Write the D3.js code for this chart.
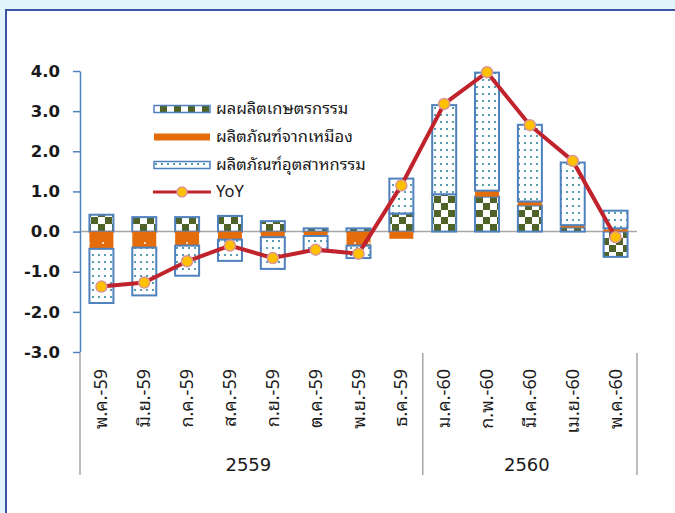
<!DOCTYPE html>
<html>
<head>
<meta charset="utf-8">
<script src="https://cdn.jsdelivr.net/npm/d3@7"></script>
<style>
  html, body { margin: 0; padding: 0; background: #e1f4fb; }
  svg { display: block; }
</style>
</head>
<body>
<svg id="chart" width="675" height="513"></svg>
<script>
// Data (percentage points)
const months = ['พ.ค.-59', 'มิ.ย.-59', 'ก.ค.-59', 'ส.ค.-59', 'ก.ย.-59', 'ต.ค.-59', 'พ.ย.-59',
  'ธ.ค.-59', 'ม.ค.-60', 'ก.พ.-60', 'มี.ค.-60', 'เม.ย.-60', 'พ.ค.-60'];
const agri = [0.42, 0.36, 0.36, 0.39, 0.26, 0.08, 0.08, 0.45, 0.93, 0.87, 0.65, 0.10, -0.63];
const mining = [-0.43, -0.40, -0.35, -0.20, -0.14, -0.11, -0.35, -0.18, 0.0, 0.15, 0.10, 0.06, 0.08];
const industry = [-1.35, -1.19, -0.75, -0.53, -0.79, -0.38, -0.31, 0.87, 2.22, 2.94, 1.91, 1.56, 0.44];
const yoy = [-1.37, -1.27, -0.74, -0.35, -0.66, -0.45, -0.55, 1.15, 3.18, 3.97, 2.65, 1.76, -0.14];
const yTicks = [-3, -2, -1, 0, 1, 2, 3, 4];
const years = ['2559', '2560'];
const yearSpans = [8, 5];
const seriesNames = ['ผลผลิตเกษตรกรรม', 'ผลิตภัณฑ์จากเหมือง', 'ผลิตภัณฑ์อุตสาหกรรม', 'YoY'];

const thaiFont = '"Noto Sans Thai Looped", "Loma", "Garuda", "Tahoma", "Noto Sans Thai", "DejaVu Sans", sans-serif';
const blue = '#4f81bd';

const svg = d3.select('#chart');

// panel
svg.append('rect')
  .attr('x', 6).attr('y', 10)
  .attr('width', 700).attr('height', 520)
  .attr('fill', '#fff')
  .attr('stroke', '#3b55a3')
  .attr('stroke-width', 2);

// patterns
const defs = svg.append('defs');
const pAgri = defs.append('pattern').attr('id', 'pAgri')
  .attr('patternUnits', 'userSpaceOnUse').attr('width', 14).attr('height', 14);
pAgri.append('rect').attr('width', 14).attr('height', 14).attr('fill', '#fff');
pAgri.append('rect').attr('width', 7).attr('height', 7).attr('fill', '#4f6228');
pAgri.append('rect').attr('x', 7).attr('y', 7).attr('width', 7).attr('height', 7).attr('fill', '#4f6228');

const pMine = defs.append('pattern').attr('id', 'pMine')
  .attr('patternUnits', 'userSpaceOnUse').attr('width', 14).attr('height', 14);
pMine.append('rect').attr('width', 14).attr('height', 14).attr('fill', '#e46c0a');
pMine.append('circle').attr('cx', 5).attr('cy', 5).attr('r', 1).attr('fill', '#fff');

const pInd = defs.append('pattern').attr('id', 'pInd')
  .attr('patternUnits', 'userSpaceOnUse').attr('width', 12).attr('height', 7);
pInd.append('rect').attr('width', 12).attr('height', 7).attr('fill', '#fff');
pInd.append('circle').attr('cx', 3).attr('cy', 3).attr('r', 1.1).attr('fill', '#31859c');
pInd.append('circle').attr('cx', 9).attr('cy', 3).attr('r', 1.1).attr('fill', '#31859c');

// scales
const x = d3.scaleBand().domain(months).range([80, 637])
  .paddingInner(0.44).paddingOuter(0.22);
const y = d3.scaleLinear().domain([-3, 4]).range([352, 71]);

// y axis
const yAxis = d3.axisLeft(y).tickValues(yTicks).tickSize(7).tickPadding(13)
  .tickSizeOuter(0).tickFormat(d => d.toFixed(1));
const gy = svg.append('g').attr('transform', 'translate(80,0)').call(yAxis);
gy.select('.domain').attr('stroke', blue).attr('stroke-width', 1.5);
gy.selectAll('.tick line').attr('stroke', blue).attr('stroke-width', 1.5);
gy.selectAll('.tick text')
  .attr('fill', '#1a1a1a')
  .attr('font-family', '"DejaVu Sans", sans-serif')
  .attr('font-weight', 'bold')
  .attr('font-size', 16.5);

// zero line
svg.append('line')
  .attr('x1', 81).attr('x2', 637)
  .attr('y1', y(0)).attr('y2', y(0))
  .attr('stroke', '#a6a6a6').attr('stroke-width', 1.5);

// stacked bars
const table = months.map((m, i) => ({ month: m, agri: agri[i], mining: mining[i], industry: industry[i] }));
const keys = ['agri', 'mining', 'industry'];
const fills = { agri: 'url(#pAgri)', mining: 'url(#pMine)', industry: 'url(#pInd)' };
const stacked = d3.stack().keys(keys).offset(d3.stackOffsetDiverging)(table);

svg.selectAll('g.series')
  .data(stacked)
  .enter()
  .append('g')
    .attr('class', 'series')
  .selectAll('rect')
  .data(s => s.map(d => Object.assign(d, { key: s.key })))
  .enter()
  .filter(d => d[0] !== d[1])
  .append('rect')
    .attr('x', d => x(d.data.month))
    .attr('width', x.bandwidth())
    .attr('y', d => y(Math.max(d[0], d[1])))
    .attr('height', d => Math.abs(y(d[0]) - y(d[1])))
    .attr('fill', d => fills[d.key])
    .attr('stroke', d => d.key === 'mining' ? 'none' : blue)
    .attr('stroke-width', 2);

// YoY line
const line = d3.line()
  .x((d, i) => x(months[i]) + x.bandwidth() / 2)
  .y(d => y(d));
svg.append('path')
  .datum(yoy)
  .attr('d', line)
  .attr('fill', 'none')
  .attr('stroke', '#c0232b')
  .attr('stroke-width', 4);

svg.selectAll('circle.yoy')
  .data(yoy)
  .enter()
  .append('circle')
    .attr('class', 'yoy')
    .attr('cx', (d, i) => x(months[i]) + x.bandwidth() / 2)
    .attr('cy', d => y(d))
    .attr('r', 5.5)
    .attr('fill', '#ffc000')
    .attr('stroke', '#d99694')
    .attr('stroke-width', 1.5);

// category labels
svg.selectAll('text.month')
  .data(months)
  .enter()
  .append('text')
    .attr('class', 'month')
    .attr('transform', d => `translate(${x(d) + x.bandwidth() / 2 + 6}, 369) rotate(-90)`)
    .attr('text-anchor', 'end')
    .attr('font-family', thaiFont)
    .attr('font-size', 18)
    .attr('fill', '#1a1a1a')
    .text(d => d);

// group dividers + year labels
const step = x.step();
let start = 0;
const bounds = [80];
years.forEach((yr, i) => {
  const x0 = 80 + start * step;
  const x1 = 80 + (start + yearSpans[i]) * step;
  bounds.push(x1);
  svg.append('text')
    .attr('x', (x0 + x1) / 2 - 3)
    .attr('y', 471)
    .attr('text-anchor', 'middle')
    .attr('font-family', '"DejaVu Sans", sans-serif')
    .attr('font-size', 18)
    .attr('fill', '#1a1a1a')
    .text(yr);
  start += yearSpans[i];
});
svg.selectAll('line.div')
  .data(bounds)
  .enter()
  .append('line')
    .attr('class', 'div')
    .attr('x1', d => d).attr('x2', d => d)
    .attr('y1', 353).attr('y2', 475)
    .attr('stroke', '#a6a6a6').attr('stroke-width', 1.5);

// legend
const legend = svg.append('g').attr('transform', 'translate(153,0)');
const legendY = [109, 137, 165, 192];
const legendFill = ['url(#pAgri)', 'url(#pMine)', 'url(#pInd)'];
seriesNames.forEach((name, i) => {
  const ly = legendY[i];
  if (i < 3) {
    legend.append('rect')
      .attr('x', 1).attr('y', ly - 3.5)
      .attr('width', 56).attr('height', 7)
      .attr('fill', legendFill[i])
      .attr('stroke', i === 1 ? 'none' : blue)
      .attr('stroke-width', 1.5);
  } else {
    legend.append('line')
      .attr('x1', 0).attr('x2', 58)
      .attr('y1', ly).attr('y2', ly)
      .attr('stroke', '#c0232b').attr('stroke-width', 3);
    legend.append('circle')
      .attr('cx', 29).attr('cy', ly).attr('r', 5)
      .attr('fill', '#ffc000').attr('stroke', '#d99694').attr('stroke-width', 1.5);
  }
  legend.append('text')
    .attr('x', 63).attr('y', ly + 5)
    .attr('font-family', thaiFont)
    .attr('font-size', 16.5)
    .attr('fill', '#1a1a1a')
    .text(name);
});
</script>
</body>
</html>
